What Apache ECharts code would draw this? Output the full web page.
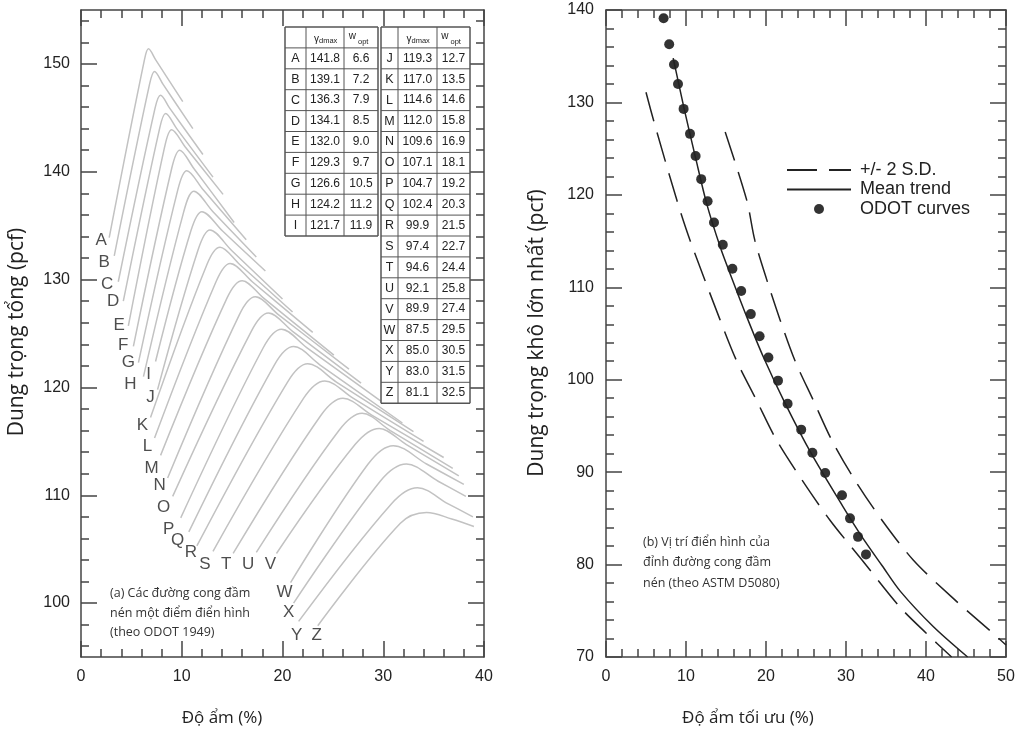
<!DOCTYPE html>
<html>
<head>
<meta charset="utf-8">
<script src="https://cdn.jsdelivr.net/npm/echarts@6/dist/echarts.min.js"></script>
<style>
html, body { margin: 0; padding: 0; background: #fff; }
#main { width: 1024px; height: 736px; }
</style>
</head>
<body>
<div id="main"></div>
<script>
// bảng giá trị (ODOT 1949)
var letters = ['A','B','C','D','E','F','G','H','I','J','K','L','M','N','O','P','Q','R','S','T','U','V','W','X','Y','Z'];
var gammaDmax = [141.8,139.1,136.3,134.1,132.0,129.3,126.6,124.2,121.7,119.3,117.0,114.6,112.0,109.6,107.1,104.7,102.4,99.9,97.4,94.6,92.1,89.9,87.5,85.0,83.0,81.1];
var wOpt = [6.6,7.2,7.9,8.5,9.0,9.7,10.5,11.2,11.9,12.7,13.5,14.6,15.8,16.9,18.1,19.2,20.3,21.5,22.7,24.4,25.8,27.4,29.5,30.5,31.5,32.5];

// đường cong đầm nén (a): điểm đầu, gối, đỉnh, vai, điểm cuối
var curveStart = [[2.8,133.9],[3.3,132.2],[3.7,129.8],[4.2,128.0],[4.7,125.7],[5.2,123.8],[5.7,122.3],[6.2,121.0],[7.4,122.4],[7.6,119.8],[6.9,117.2],[7.3,115.3],[7.9,113.7],[8.6,111.6],[9.1,109.9],[9.9,107.9],[10.7,106.6],[11.5,105.3],[13.1,104.8],[15.1,104.6],[17.4,104.7],[19.4,104.6],[20.8,101.9],[21.1,100.0],[21.6,98.3],[23.5,97.9]];
var curveKnee = [[6.3,150.4],[6.8,148.1],[7.35,145.9],[7.8,144.0],[8.3,142.3],[9.0,140.3],[9.6,138.3],[10.2,136.3],[10.9,134.5],[11.6,132.7],[12.5,131.4],[13.4,129.8],[14.5,128.3],[15.7,126.7],[16.9,125.2],[18.1,123.7],[19.2,122.1],[20.5,120.5],[22.1,119.0],[23.8,117.4],[25.6,116.0],[27.2,114.7],[28.5,112.9],[29.7,111.3],[30.8,109.2],[31.7,107.4]];
var curvePeak = [[6.7,151.4],[7.3,149.3],[7.9,147.1],[8.4,145.4],[9.0,143.9],[9.8,142.0],[10.5,140.1],[11.2,138.2],[12.0,136.3],[12.8,134.6],[13.8,133.0],[14.8,131.5],[16.0,129.9],[17.3,128.4],[18.6,126.9],[19.9,125.4],[21.1,123.8],[22.5,122.2],[24.2,120.6],[26.0,119.0],[27.9,117.6],[29.6,116.2],[31.0,114.6],[32.3,112.9],[33.4,110.7],[34.3,108.4]];
var curveShoulder = [[7.4,150.4],[8.15,148.1],[8.8,145.9],[9.5,144.0],[10.35,142.3],[11.2,140.3],[12.15,138.3],[13.1,136.3],[14.05,134.5],[14.95,132.7],[15.75,131.4],[17.0,129.8],[18.1,128.3],[19.65,126.7],[21.0,125.2],[22.4,123.7],[23.7,122.1],[25.35,120.5],[27.0,119.0],[28.9,117.4],[30.7,116.0],[32.3,114.7],[34.3,112.9],[35.45,111.3],[36.45,109.2],[36.8,107.8]];
var curveEnd = [[10.1,146.5],[11.1,144.0],[12.1,141.6],[13.1,139.5],[14.1,137.9],[15.2,135.3],[16.4,133.7],[17.4,132.1],[18.3,130.8],[20.0,128.2],[21.0,127.0],[23.0,125.1],[25.1,123.0],[26.6,121.7],[27.8,120.4],[29.8,118.7],[31.9,116.7],[33.0,115.9],[34.0,115.0],[36.0,113.5],[36.9,112.5],[37.5,111.8],[38.0,111.0],[38.2,109.9],[38.9,108.0],[39.0,107.1]];
var labelPos = [[2.0,133.6],[2.3,131.6],[2.6,129.6],[3.2,128.0],[3.8,125.8],[4.2,123.9],[4.7,122.3],[4.9,120.3],[6.7,121.2],[6.9,119.1],[6.1,116.5],[6.6,114.5],[7.0,112.5],[7.8,110.9],[8.2,108.9],[8.7,106.8],[9.6,105.8],[10.9,104.7],[12.3,103.6],[14.4,103.6],[16.6,103.6],[18.8,103.6],[20.2,101.0],[20.6,99.1],[21.4,97.0],[23.4,97.0]];

// (b) ASTM D5080
var meanTrend = [[8.4,134.8],[9.8,129.2],[11.2,124.0],[12.6,119.0],[14.3,114.3],[15.5,111.5],[17.6,106.8],[19.7,102.4],[22.3,97.6],[25.6,92.1],[29.6,86.3],[32.0,83.0],[34.5,79.9],[36.8,77.1],[40.9,73.3],[45.2,70.0]];
var sdLower = [[5.0,131.1],[6.0,127.9],[8.9,119.3],[10.5,115.1],[14.25,106.5],[16.3,102.1],[18.8,97.8],[21.3,93.5],[24.5,89.15],[28.0,84.8],[32.0,80.5],[36.75,75.4],[40.0,72.6],[43.2,70.0]];
var sdUpper = [[14.9,126.8],[17.6,119.4],[18.6,115.1],[20.1,110.8],[21.75,106.5],[23.6,102.1],[25.9,97.8],[28.2,93.5],[31.1,89.15],[34.5,84.8],[38.4,80.5],[43.2,76.5],[48.2,72.7],[50.0,71.3]];

// vạch chia trục tung bên trái
var yMajorLeft = [100, 110, 120, 130, 140, 150];
var yMinorLeft = [];
for (var v = 96; v <= 154; v += 2) { if (v % 10 !== 0) yMinorLeft.push(v); }

var frame = { color: '#444', width: 1.5 };
var tickFont = { fontSize: 16, color: '#222', fontFamily: 'Liberation Sans' };

function xAx(grid, max, pos) {
	return {
		gridIndex: grid, type: 'value', min: 0, max: max, interval: 10, position: pos,
		axisLine: { onZero: false, lineStyle: frame },
		axisTick: { inside: true, length: 16, lineStyle: frame },
		minorTick: { show: true, splitNumber: 5, length: 8, lineStyle: frame },
		axisLabel: pos === 'bottom' ? Object.assign({ margin: 12 }, tickFont) : { show: false },
		splitLine: { show: false }, minorSplitLine: { show: false }
	};
}
function yLeft(pos, vals, len, showLine, showLabel) {
	return {
		gridIndex: 0, type: 'value', min: 95, max: 155, position: pos,
		axisLine: { show: showLine, onZero: false, lineStyle: frame },
		axisTick: { inside: true, length: len, customValues: vals, lineStyle: frame },
		axisLabel: showLabel ? Object.assign({ margin: 11, customValues: vals }, tickFont) : { show: false },
		splitLine: { show: false }
	};
}
function yRight(pos) {
	return {
		gridIndex: 1, type: 'value', min: 70, max: 140, interval: 10, position: pos,
		axisLine: { onZero: false, lineStyle: frame },
		axisTick: { inside: true, length: 16, lineStyle: frame },
		minorTick: { show: true, splitNumber: 5, length: 8, lineStyle: frame },
		axisLabel: pos === 'left' ? Object.assign({ margin: 12 }, tickFont) : { show: false },
		splitLine: { show: false }, minorSplitLine: { show: false }
	};
}

var series = [];
letters.forEach(function (l, i) {
	series.push({
		type: 'line', xAxisIndex: 0, yAxisIndex: 0, silent: true,
		data: [curveStart[i], curveKnee[i], curvePeak[i], curveShoulder[i], curveEnd[i]],
		smooth: 0.35, symbol: 'none',
		lineStyle: { color: '#c2c2c2', width: 1.5 }
	});
});
series.push({
	type: 'scatter', xAxisIndex: 0, yAxisIndex: 0, silent: true,
	symbolSize: 1, itemStyle: { color: 'rgba(0,0,0,0)' },
	data: letters.map(function (l, i) { return { name: l, value: labelPos[i] }; }),
	label: { show: true, position: 'inside', formatter: '{b}', fontSize: 17, color: '#222', fontFamily: 'Liberation Sans' }
});
var sdStyle = { color: '#222', width: 1.5, type: [30, 12] };
series.push({ name: '+/- 2 S.D.', type: 'line', xAxisIndex: 2, yAxisIndex: 4, data: sdLower, smooth: 0.3, symbol: 'none', itemStyle: { color: '#222' }, lineStyle: sdStyle });
series.push({ name: '+/- 2 S.D.', type: 'line', xAxisIndex: 2, yAxisIndex: 4, data: sdUpper, smooth: 0.3, symbol: 'none', itemStyle: { color: '#222' }, lineStyle: sdStyle });
series.push({ name: 'Mean trend', type: 'line', xAxisIndex: 2, yAxisIndex: 4, data: meanTrend, smooth: 0.3, symbol: 'none', itemStyle: { color: '#222' }, lineStyle: { color: '#222', width: 1.5 } });
series.push({
	name: 'ODOT curves', type: 'scatter', xAxisIndex: 2, yAxisIndex: 4, clip: true,
	symbolSize: 10, itemStyle: { color: '#000' },
	data: wOpt.map(function (w, i) { return [w, gammaDmax[i]]; })
});

// bảng A–Z
var graphics = [];
var rowH = 20.9, tTop = 27;
var lineCol = '#555';
function hline(x1, x2, y, w) { graphics.push({ type: 'line', z: 100, shape: { x1: x1, y1: y, x2: x2, y2: y }, style: { stroke: lineCol, lineWidth: w } }); }
function vline(x, y1, y2, w) { graphics.push({ type: 'line', z: 100, shape: { x1: x, y1: y1, x2: x, y2: y2 }, style: { stroke: lineCol, lineWidth: w } }); }
function txt(x, y, s, font, align) {
	graphics.push({ type: 'text', z: 101, x: x, y: y, style: { text: s, font: font, fill: '#222', textAlign: align || 'center', textVerticalAlign: 'middle', align: align || 'center', verticalAlign: 'middle' } });
}
function block(cols, from, to) {
	var n = to - from + 1;
	var bottom = tTop + rowH * (n + 1);
	graphics.push({ type: 'rect', z: 99, shape: { x: cols[0], y: tTop, width: cols[3] - cols[0], height: bottom - tTop }, style: { fill: '#fff', stroke: null } });
	for (var r = 0; r <= n + 1; r++) hline(cols[0], cols[3], tTop + rowH * r, (r === 0 || r === n + 1) ? 1.5 : 1);
	cols.forEach(function (c, k) { vline(c, tTop, bottom, (k === 0 || k === 3) ? 1.5 : 1); });
	var gC = (cols[1] + cols[2]) / 2, wC = (cols[2] + cols[3]) / 2, hy = tTop + rowH / 2;
	txt(gC - 6, hy + 2, 'γ', '10px "Liberation Sans"', 'right');
	txt(gC - 6, hy + 3, 'dmax', '7.5px "Liberation Sans"', 'left');
	txt(wC - 5, hy - 1, 'w', '10px "Liberation Sans"', 'right');
	txt(wC - 3, hy + 4, 'opt', '7.5px "Liberation Sans"', 'left');
	for (var i = from; i <= to; i++) {
		var y = tTop + rowH * (i - from + 1.5);
		txt((cols[0] + cols[1]) / 2, y, letters[i], '12.5px "Liberation Sans"');
		txt(gC, y, gammaDmax[i].toFixed(1), '12px "Liberation Sans"');
		txt(wC, y, wOpt[i].toFixed(1), '12px "Liberation Sans"');
	}
}
block([285, 306, 344, 378], 0, 8);
block([381, 398, 437, 470], 9, 25);

// chú thích và tên trục
function note(x, y, s, lh) {
	graphics.push({ type: 'text', z: 101, x: x, y: y, style: { text: s, font: '12.5px "Open Sans"', fill: '#333', lineHeight: lh, textAlign: 'left', textVerticalAlign: 'top', align: 'left', verticalAlign: 'top' } });
}
note(110, 584, '(a) Các đường cong đầm\nnén một điểm điển hình\n(theo ODOT 1949)', 19.5);
note(643, 532, '(b) Vị trí điển hình của\nđỉnh đường cong đầm\nnén (theo ASTM D5080)', 20.5);
function title(x, y, s, size, rot) {
	graphics.push({ type: 'text', z: 101, x: x, y: y, rotation: rot || 0, style: { text: s, font: size + 'px "Open Sans"', fill: '#222', textAlign: 'center', textVerticalAlign: 'middle', align: 'center', verticalAlign: 'middle' } });
}
title(222, 718, 'Độ ẩm (%)', 17);
title(748, 718, 'Độ ẩm tối ưu (%)', 17);
title(17, 332, 'Dung trọng tổng (pcf)', 21, Math.PI / 2);
title(537, 333, 'Dung trọng khô lớn nhất (pcf)', 21, Math.PI / 2);

var hideDot = { color: 'rgba(0,0,0,0)', opacity: 0, borderWidth: 0 };
var chart = echarts.init(document.getElementById('main'));
chart.setOption({
	animation: false,
	backgroundColor: '#fff',
	grid: [
		{ left: 81, top: 10, width: 403, height: 647 },
		{ left: 606, top: 10, width: 400, height: 647 }
	],
	xAxis: [xAx(0, 40, 'bottom'), xAx(0, 40, 'top'), xAx(1, 50, 'bottom'), xAx(1, 50, 'top')],
	yAxis: [
		yLeft('left', yMajorLeft, 16, true, true),
		yLeft('right', yMajorLeft, 16, true, false),
		yLeft('left', yMinorLeft, 8, false, false),
		yLeft('right', yMinorLeft, 8, false, false),
		yRight('left'),
		yRight('right')
	],
	legend: {
		data: [
			{ name: '+/- 2 S.D.', itemStyle: hideDot },
			{ name: 'Mean trend', itemStyle: hideDot },
			{ name: 'ODOT curves' }
		],
		orient: 'vertical', left: 781, top: 156,
		itemWidth: 64, itemHeight: 10, itemGap: 1.5,
		selectedMode: false,
		textStyle: { fontSize: 18, color: '#222', fontFamily: 'Liberation Sans', padding: [0, 0, 0, 4] }
	},
	graphic: { elements: graphics },
	series: series
});
</script>
</body>
</html>
